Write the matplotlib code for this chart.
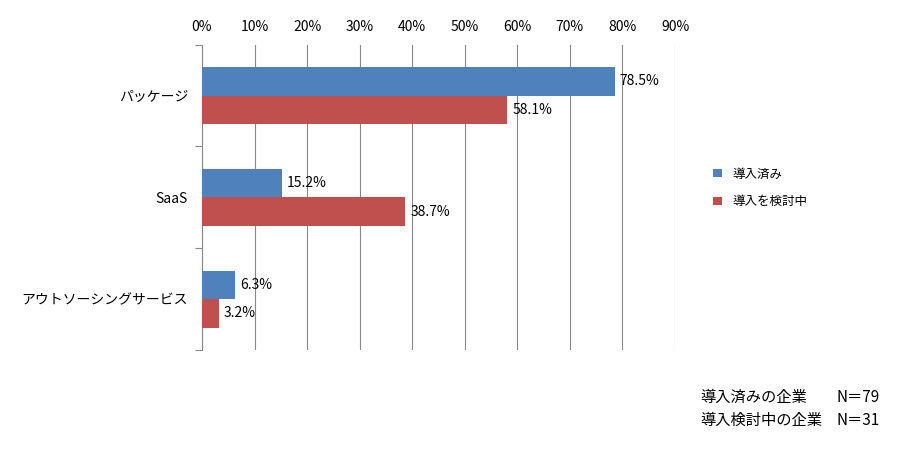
import matplotlib.pyplot as plt
import numpy as np

plt.rcParams['font.family'] = ['Noto Sans CJK JP', 'DejaVu Sans']

categories = ["パッケージ", "SaaS", "アウトソーシングサービス"]
adopted = [78.5, 15.2, 6.3]
considering = [58.1, 38.7, 3.2]
series_names = ["導入済み", "導入を検討中"]
colors = ["#4F81BD", "#C0504D"]


def main() -> None:
    fig = plt.figure(figsize=(9, 4.59), dpi=100)
    ax = fig.add_axes([0.2244, 0.2375, 0.5256, 0.665])
    centers = np.arange(len(categories)) + 0.5
    h = 0.28
    b1 = ax.barh(centers - h / 2, adopted, height=h, color=colors[0], label=series_names[0], zorder=3)
    b2 = ax.barh(centers + h / 2, considering, height=h, color=colors[1], label=series_names[1], zorder=3)
    for bars, vals in ((b1, adopted), (b2, considering)):
        for bar, v in zip(bars, vals):
            ax.text(v + 1, bar.get_y() + bar.get_height() / 2, f"{v:.1f}%",
                    va="center", ha="left", fontsize=10)
    ax.set_xlim(0, 90)
    ax.set_ylim(3, 0)
    ax.set_xticks(range(0, 91, 10))
    ax.set_xticklabels([f"{t}%" for t in range(0, 91, 10)], fontsize=10)
    ax.xaxis.tick_top()
    ax.tick_params(axis="x", length=0, pad=8)
    ax.set_yticks([0, 1, 2, 3])
    ax.set_yticklabels([])
    ax.set_yticks(centers, minor=True)
    ax.set_yticklabels(categories, minor=True, fontsize=10)
    ax.tick_params(axis="y", which="minor", length=0, pad=10)
    ax.tick_params(axis="y", which="major", length=5, color="#888888")
    ax.grid(axis="x", color="#888888", linewidth=0.8, zorder=0)
    for s in ("top", "right", "bottom"):
        ax.spines[s].set_visible(False)
    ax.spines["left"].set_color("#888888")
    fig.legend(handles=[b1, b2], loc="upper left", bbox_to_anchor=(0.78, 0.66),
               frameon=False, fontsize=9, handlelength=0.7, handleheight=0.7,
               labelspacing=1.2)
    fig.text(0.778, 0.125, "導入済みの企業", fontsize=11)
    fig.text(0.93, 0.125, "N＝79", fontsize=11)
    fig.text(0.778, 0.075, "導入検討中の企業", fontsize=11)
    fig.text(0.93, 0.075, "N＝31", fontsize=11)
    fig.savefig("out.png", dpi=100)


if __name__ == "__main__":
    main()
